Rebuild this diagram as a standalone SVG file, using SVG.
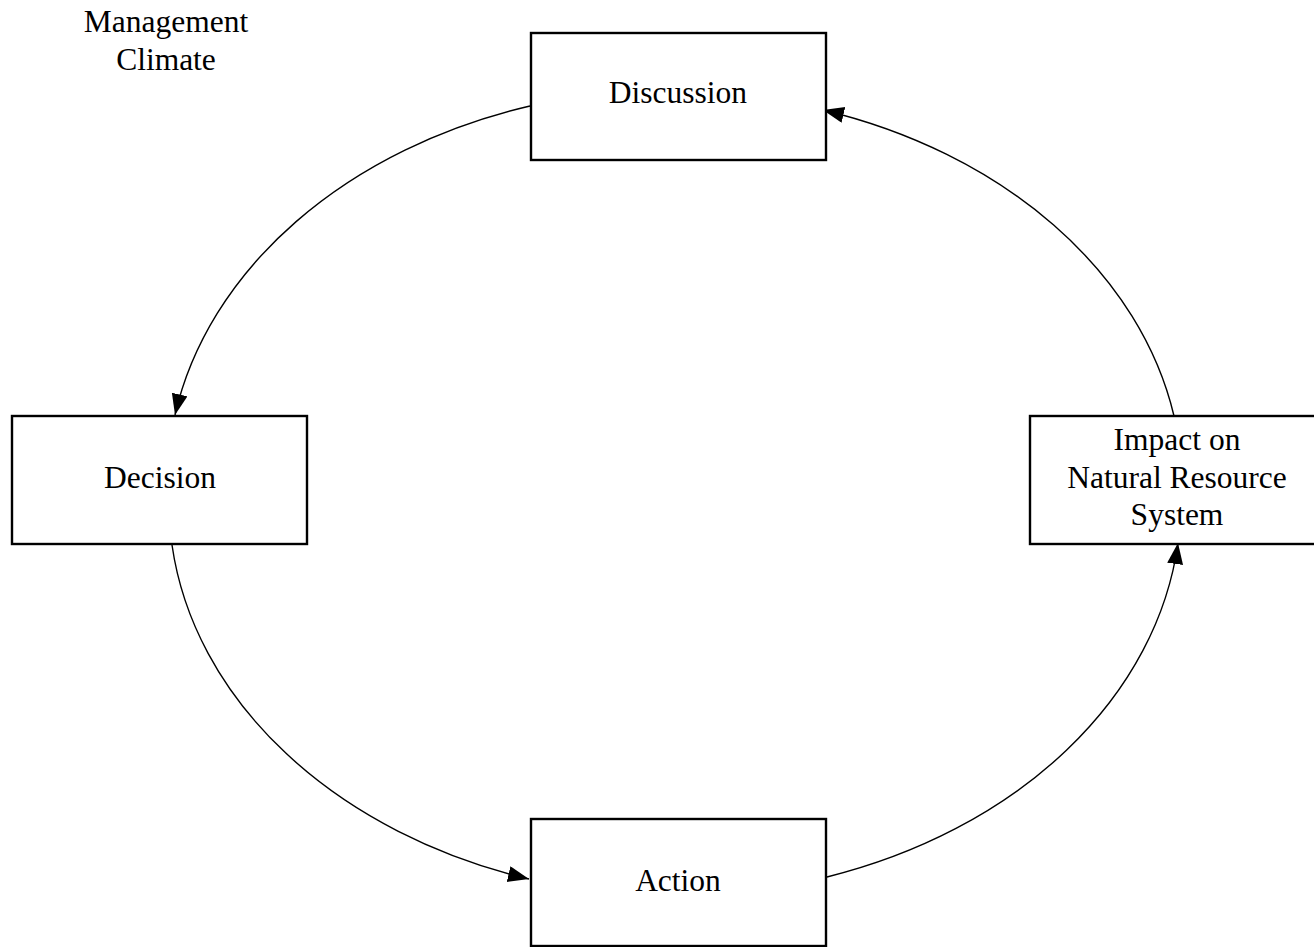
<svg xmlns="http://www.w3.org/2000/svg" width="1314" height="947" viewBox="0 0 1314 947">
<style>
.box{fill:#fff;stroke:#000;stroke-width:2.4}
.lbl{font-family:"Liberation Serif","Times New Roman",serif;font-size:31.5px;fill:#000;text-anchor:middle}
.con{fill:none;stroke:#000;stroke-width:1.4;marker-end:url(#ah)}
</style>
<defs>
<marker id="ah" markerUnits="userSpaceOnUse" markerWidth="26" markerHeight="20" refX="21" refY="8" orient="auto">
<path d="M0,0 L21,8 L0,16 Z" fill="#000"/>
</marker>
</defs>
<rect width="1314" height="947" fill="#fff"/>
<g id="connectors">
<path class="con" d="M530,106 A510 395 0 0 0 175,415"/>
<path class="con" d="M172,545 A510 395 0 0 0 529,879"/>
<path class="con" d="M827,877 A510 395 0 0 0 1178,543"/>
<path class="con" d="M1174,416 A510 395 0 0 0 823,110"/>
</g>
<g id="management-climate">
<text class="lbl" x="166" y="32">Management</text>
<text class="lbl" x="166" y="70">Climate</text>
</g>
<g id="discussion">
<rect class="box" x="531" y="33" width="295" height="127"/>
<text class="lbl" x="678" y="103">Discussion</text>
</g>
<g id="decision">
<rect class="box" x="12" y="416" width="295" height="128"/>
<text class="lbl" x="160" y="488">Decision</text>
</g>
<g id="impact">
<rect class="box" x="1030" y="416" width="295" height="128"/>
<text class="lbl" x="1177" y="450">Impact on</text>
<text class="lbl" x="1177" y="488">Natural Resource</text>
<text class="lbl" x="1177" y="525">System</text>
</g>
<g id="action">
<rect class="box" x="531" y="819" width="295" height="127"/>
<text class="lbl" x="678" y="891">Action</text>
</g>
</svg>
